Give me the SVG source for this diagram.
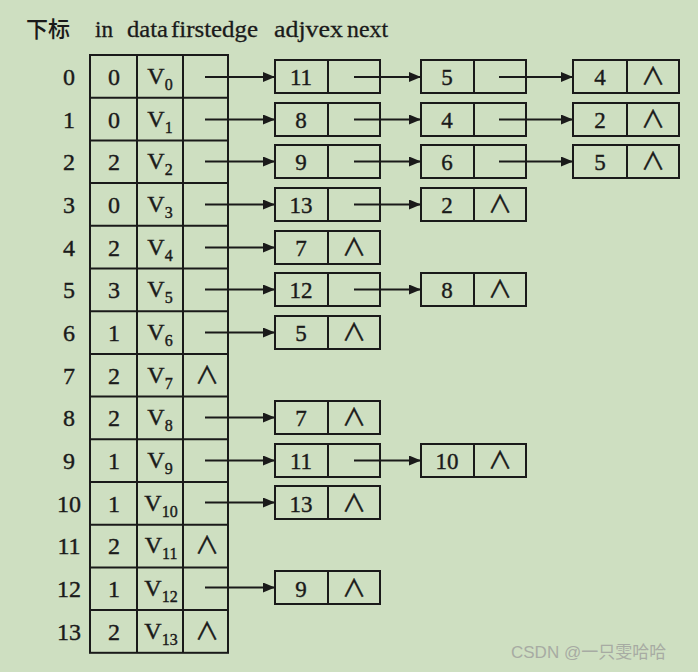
<svg xmlns="http://www.w3.org/2000/svg" width="698" height="672" viewBox="0 0 698 672">
<defs>
<marker id="ah" markerUnits="userSpaceOnUse" markerWidth="12" markerHeight="10" refX="12" refY="5" orient="auto">
<path d="M0,0 L12,5 L0,10 Z" fill="#1a1a1a"/>
</marker>
<style>
.bx{fill:none;stroke:#1a1a1a;stroke-width:2}
.ln{stroke:#1a1a1a;stroke-width:2}
.t{font-family:"Liberation Serif","Times New Roman",serif;font-size:24px;fill:#1a1a1a;stroke:#1a1a1a;stroke-width:0.4;text-anchor:middle}
.n{font-family:"Liberation Serif","Times New Roman",serif;font-size:23px;fill:#1a1a1a;stroke:#1a1a1a;stroke-width:0.4;text-anchor:middle}
.s{font-size:16px}
.lam{font-family:"Noto Sans CJK SC",sans-serif;font-size:24px;fill:#1a1a1a;stroke:#1a1a1a;stroke-width:0.4;text-anchor:middle}
.h{font-family:"Liberation Serif","Times New Roman",serif;font-size:24px;fill:#1a1a1a;stroke:#1a1a1a;stroke-width:0.3}
.cj{font-family:"Noto Sans CJK SC",sans-serif;font-size:22px;font-weight:500;fill:#1a1a1a}
.ar{stroke:#1a1a1a;stroke-width:2;marker-end:url(#ah)}
</style>
</defs>
<rect width="698" height="672" fill="#cedfc1"/>

<g id="header">
<text class="cj" x="26" y="37">下标</text>
<text class="h" x="95" y="37" textLength="18" lengthAdjust="spacingAndGlyphs">in</text>
<text class="h" x="127" y="37" textLength="41" lengthAdjust="spacingAndGlyphs">data</text>
<text class="h" x="171" y="37" textLength="87" lengthAdjust="spacingAndGlyphs">firstedge</text>
<text class="h" x="274" y="37" textLength="69" lengthAdjust="spacingAndGlyphs">adjvex</text>
<text class="h" x="347" y="37" textLength="41" lengthAdjust="spacingAndGlyphs">next</text>
</g>

<g id="table">
<rect class="bx" x="90" y="55" width="138" height="597.8"/>
<line class="ln" x1="137" y1="55" x2="137" y2="652.8"/>
<line class="ln" x1="183" y1="55" x2="183" y2="652.8"/>
<line class="ln" x1="90" y1="97.7" x2="228" y2="97.7"/>
<line class="ln" x1="90" y1="140.4" x2="228" y2="140.4"/>
<line class="ln" x1="90" y1="183.1" x2="228" y2="183.1"/>
<line class="ln" x1="90" y1="225.8" x2="228" y2="225.8"/>
<line class="ln" x1="90" y1="268.5" x2="228" y2="268.5"/>
<line class="ln" x1="90" y1="311.2" x2="228" y2="311.2"/>
<line class="ln" x1="90" y1="353.9" x2="228" y2="353.9"/>
<line class="ln" x1="90" y1="396.6" x2="228" y2="396.6"/>
<line class="ln" x1="90" y1="439.3" x2="228" y2="439.3"/>
<line class="ln" x1="90" y1="482" x2="228" y2="482"/>
<line class="ln" x1="90" y1="524.7" x2="228" y2="524.7"/>
<line class="ln" x1="90" y1="567.4" x2="228" y2="567.4"/>
<line class="ln" x1="90" y1="610.1" x2="228" y2="610.1"/>
</g>

<g id="row-0"><text class="t" x="69" y="85">0</text><text class="t" x="114" y="85">0</text><text class="t" x="160" y="84">V<tspan class="s" dy="6">0</tspan></text></g>
<g id="row-1"><text class="t" x="69" y="128">1</text><text class="t" x="114" y="128">0</text><text class="t" x="160" y="127">V<tspan class="s" dy="6">1</tspan></text></g>
<g id="row-2"><text class="t" x="69" y="170">2</text><text class="t" x="114" y="170">2</text><text class="t" x="160" y="169">V<tspan class="s" dy="6">2</tspan></text></g>
<g id="row-3"><text class="t" x="69" y="213">3</text><text class="t" x="114" y="213">0</text><text class="t" x="160" y="212">V<tspan class="s" dy="6">3</tspan></text></g>
<g id="row-4"><text class="t" x="69" y="256">4</text><text class="t" x="114" y="256">2</text><text class="t" x="160" y="255">V<tspan class="s" dy="6">4</tspan></text></g>
<g id="row-5"><text class="t" x="69" y="298">5</text><text class="t" x="114" y="298">3</text><text class="t" x="160" y="297">V<tspan class="s" dy="6">5</tspan></text></g>
<g id="row-6"><text class="t" x="69" y="341">6</text><text class="t" x="114" y="341">1</text><text class="t" x="160" y="340">V<tspan class="s" dy="6">6</tspan></text></g>
<g id="row-7"><text class="t" x="69" y="384">7</text><text class="t" x="114" y="384">2</text><text class="t" x="160" y="383">V<tspan class="s" dy="6">7</tspan></text><text class="lam" x="207" y="384">∧</text></g>
<g id="row-8"><text class="t" x="69" y="426">8</text><text class="t" x="114" y="426">2</text><text class="t" x="160" y="425">V<tspan class="s" dy="6">8</tspan></text></g>
<g id="row-9"><text class="t" x="69" y="469">9</text><text class="t" x="114" y="469">1</text><text class="t" x="160" y="468">V<tspan class="s" dy="6">9</tspan></text></g>
<g id="row-10"><text class="t" x="69" y="512">10</text><text class="t" x="114" y="512">1</text><text class="t" x="161" y="511">V<tspan class="s" dy="6">10</tspan></text></g>
<g id="row-11"><text class="t" x="69" y="554">11</text><text class="t" x="114" y="554">2</text><text class="t" x="161" y="553">V<tspan class="s" dy="6">11</tspan></text><text class="lam" x="207" y="554">∧</text></g>
<g id="row-12"><text class="t" x="69" y="597">12</text><text class="t" x="114" y="597">1</text><text class="t" x="161" y="596">V<tspan class="s" dy="6">12</tspan></text></g>
<g id="row-13"><text class="t" x="69" y="640">13</text><text class="t" x="114" y="640">2</text><text class="t" x="161" y="639">V<tspan class="s" dy="6">13</tspan></text><text class="lam" x="207" y="640">∧</text></g>

<!-- edge nodes -->
<g id="e0a"><rect class="bx" x="275" y="60" width="105" height="33"/><line class="ln" x1="328" y1="60" x2="328" y2="93"/><text class="n" x="301" y="85">11</text></g>
<g id="e0b"><rect class="bx" x="421" y="60" width="105" height="33"/><line class="ln" x1="474" y1="60" x2="474" y2="93"/><text class="n" x="447" y="85">5</text></g>
<g id="e0c"><rect class="bx" x="573" y="60" width="106" height="33"/><line class="ln" x1="627" y1="60" x2="627" y2="93"/><text class="n" x="600" y="85">4</text><text class="lam" x="653" y="85">∧</text></g>

<g id="e1a"><rect class="bx" x="275" y="103" width="105" height="33"/><line class="ln" x1="328" y1="103" x2="328" y2="136"/><text class="n" x="301" y="128">8</text></g>
<g id="e1b"><rect class="bx" x="421" y="103" width="105" height="33"/><line class="ln" x1="474" y1="103" x2="474" y2="136"/><text class="n" x="447" y="128">4</text></g>
<g id="e1c"><rect class="bx" x="573" y="103" width="106" height="33"/><line class="ln" x1="627" y1="103" x2="627" y2="136"/><text class="n" x="600" y="128">2</text><text class="lam" x="653" y="128">∧</text></g>

<g id="e2a"><rect class="bx" x="275" y="145" width="105" height="33"/><line class="ln" x1="328" y1="145" x2="328" y2="178"/><text class="n" x="301" y="170">9</text></g>
<g id="e2b"><rect class="bx" x="421" y="145" width="105" height="33"/><line class="ln" x1="474" y1="145" x2="474" y2="178"/><text class="n" x="447" y="170">6</text></g>
<g id="e2c"><rect class="bx" x="573" y="145" width="106" height="33"/><line class="ln" x1="627" y1="145" x2="627" y2="178"/><text class="n" x="600" y="170">5</text><text class="lam" x="653" y="170">∧</text></g>

<g id="e3a"><rect class="bx" x="275" y="188" width="105" height="33"/><line class="ln" x1="328" y1="188" x2="328" y2="221"/><text class="n" x="301" y="213">13</text></g>
<g id="e3b"><rect class="bx" x="421" y="188" width="105" height="33"/><line class="ln" x1="474" y1="188" x2="474" y2="221"/><text class="n" x="447" y="213">2</text><text class="lam" x="500" y="213">∧</text></g>

<g id="e4a"><rect class="bx" x="275" y="231" width="105" height="33"/><line class="ln" x1="328" y1="231" x2="328" y2="264"/><text class="n" x="301" y="256">7</text><text class="lam" x="354" y="256">∧</text></g>

<g id="e5a"><rect class="bx" x="275" y="273" width="105" height="33"/><line class="ln" x1="328" y1="273" x2="328" y2="306"/><text class="n" x="301" y="298">12</text></g>
<g id="e5b"><rect class="bx" x="421" y="273" width="105" height="33"/><line class="ln" x1="474" y1="273" x2="474" y2="306"/><text class="n" x="447" y="298">8</text><text class="lam" x="500" y="298">∧</text></g>

<g id="e6a"><rect class="bx" x="275" y="316" width="105" height="33"/><line class="ln" x1="328" y1="316" x2="328" y2="349"/><text class="n" x="301" y="341">5</text><text class="lam" x="354" y="341">∧</text></g>

<g id="e8a"><rect class="bx" x="275" y="401" width="105" height="33"/><line class="ln" x1="328" y1="401" x2="328" y2="434"/><text class="n" x="301" y="426">7</text><text class="lam" x="354" y="426">∧</text></g>

<g id="e9a"><rect class="bx" x="275" y="444" width="105" height="33"/><line class="ln" x1="328" y1="444" x2="328" y2="477"/><text class="n" x="301" y="469">11</text></g>
<g id="e9b"><rect class="bx" x="421" y="444" width="105" height="33"/><line class="ln" x1="474" y1="444" x2="474" y2="477"/><text class="n" x="447" y="469">10</text><text class="lam" x="500" y="469">∧</text></g>

<g id="e10a"><rect class="bx" x="275" y="486" width="105" height="33"/><line class="ln" x1="328" y1="486" x2="328" y2="519"/><text class="n" x="301" y="512">13</text><text class="lam" x="354" y="512">∧</text></g>

<g id="e12a"><rect class="bx" x="275" y="571" width="105" height="33"/><line class="ln" x1="328" y1="571" x2="328" y2="604"/><text class="n" x="301" y="597">9</text><text class="lam" x="354" y="597">∧</text></g>

<g id="connectors">
<line class="ar" x1="205" y1="77" x2="275" y2="77"/>
<line class="ar" x1="354" y1="77" x2="421" y2="77"/>
<line class="ar" x1="499" y1="77" x2="573" y2="77"/>
<line class="ar" x1="205" y1="119.5" x2="275" y2="119.5"/>
<line class="ar" x1="354" y1="119.5" x2="421" y2="119.5"/>
<line class="ar" x1="499" y1="119.5" x2="573" y2="119.5"/>
<line class="ar" x1="205" y1="161.5" x2="275" y2="161.5"/>
<line class="ar" x1="354" y1="161.5" x2="421" y2="161.5"/>
<line class="ar" x1="499" y1="161.5" x2="573" y2="161.5"/>
<line class="ar" x1="205" y1="204.5" x2="275" y2="204.5"/>
<line class="ar" x1="354" y1="204.5" x2="421" y2="204.5"/>
<line class="ar" x1="205" y1="247.5" x2="275" y2="247.5"/>
<line class="ar" x1="205" y1="289.5" x2="275" y2="289.5"/>
<line class="ar" x1="354" y1="289.5" x2="421" y2="289.5"/>
<line class="ar" x1="205" y1="332.5" x2="275" y2="332.5"/>
<line class="ar" x1="205" y1="417.5" x2="275" y2="417.5"/>
<line class="ar" x1="205" y1="460.5" x2="275" y2="460.5"/>
<line class="ar" x1="354" y1="460.5" x2="421" y2="460.5"/>
<line class="ar" x1="205" y1="502.5" x2="275" y2="502.5"/>
<line class="ar" x1="205" y1="587.5" x2="275" y2="587.5"/>
</g>

<text x="511" y="658" font-family="'Liberation Sans','Noto Sans CJK SC',sans-serif" font-size="17" fill="#a7aba3">CSDN @一只雯哈哈</text>
</svg>
